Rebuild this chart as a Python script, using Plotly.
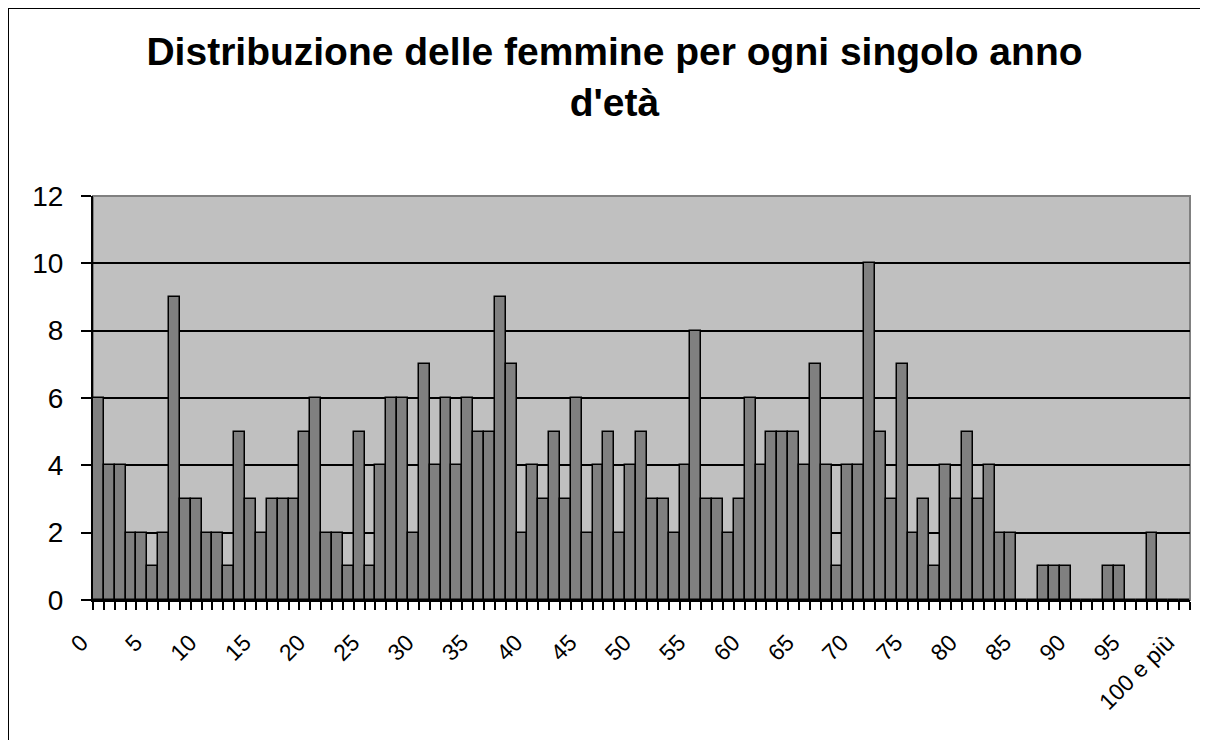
import plotly.graph_objects as go

ages = list(range(101))
age_labels = [str(a) for a in range(100)] + ["100 e più"]
females = [6, 4, 4, 2, 2, 1, 2, 9, 3, 3,
           2, 2, 1, 5, 3, 2, 3, 3, 3, 5,
           6, 2, 2, 1, 5, 1, 4, 6, 6, 2,
           7, 4, 6, 4, 6, 5, 5, 9, 7, 2,
           4, 3, 5, 3, 6, 2, 4, 5, 2, 4,
           5, 3, 3, 2, 4, 8, 3, 3, 2, 3,
           6, 4, 5, 5, 5, 4, 7, 4, 1, 4,
           4, 10, 5, 3, 7, 2, 3, 1, 4, 3,
           5, 3, 4, 2, 2, 0, 0, 1, 1, 1,
           0, 0, 0, 1, 1, 0, 0, 2, 0, 0,
           0]
label_step = 5
y_ticks = [0, 2, 4, 6, 8, 10, 12]
title_text = "Distribuzione delle femmine per ogni singolo anno<br>d'età"

FONT = "Arial, Liberation Sans, sans-serif"

fig = go.Figure(go.Bar(
    x=ages, y=females,
    marker=dict(color="#808080", line=dict(color="black", width=1.5)),
    hoverinfo="x+y",
))

# page is offset by the 8px body margin
W, H = 1200, 732
L, R, T, B = 85, 18, 188, 140
pw, ph = W - L - R, H - T - B

def px_x(p):
    return (p - L) / pw

def px_y(p):
    return (H - B - p) / ph

fig.update_layout(
    width=W, height=H,
    margin=dict(l=L, r=R, t=T, b=B, pad=0),
    paper_bgcolor="white",
    plot_bgcolor="#C0C0C0",
    bargap=0,
    showlegend=False,
    font=dict(family=FONT, color="black"),
    title=dict(text="<b>" + title_text + "</b>", x=606.5 / W, xref="container", xanchor="center",
               y=1 - 57 / H, yref="container", yanchor="top",
               font=dict(size=39, family=FONT, color="black")),
    xaxis=dict(
        range=[-0.5, len(ages) - 0.5],
        tickmode="array",
        tickvals=ages[::label_step],
        ticktext=age_labels[::label_step],
        tickangle=-45,
        ticks="",
        tickfont=dict(size=23, family=FONT),
        ticklabelshift=-17,
        ticklabelstandoff=18,
        showgrid=False, zeroline=False,
        showline=True, linecolor="black", linewidth=2,
        minor=dict(tickmode="array", tickvals=[a - 0.5 for a in ages] + [ages[-1] + 0.5],
                   ticks="outside", ticklen=8, tickwidth=2, tickcolor="black", showgrid=False),
        fixedrange=True,
    ),
    yaxis=dict(
        range=[0, 12],
        tickmode="array", tickvals=y_ticks,
        ticks="outside", ticklen=10, tickwidth=2, tickcolor="black",
        tickfont=dict(size=28, family=FONT),
        ticklabelstandoff=12,
        showgrid=True, gridcolor="black", gridwidth=1.5,
        zeroline=False,
        showline=True, linecolor="black", linewidth=2,
        fixedrange=True,
    ),
    shapes=[
        dict(type="rect", xref="paper", yref="paper", x0=0, x1=1, y0=0, y1=1,
             line=dict(color="#808080", width=2), layer="below"),
        dict(type="path", xref="paper", yref="paper",
             path="M {x0},{y0} L {x0},{y1} L {x1},{y1} L {x1},{y0}".format(
                 x0=px_x(0), x1=px_x(W - 1), y0=px_y(H + 20), y1=px_y(0)),
             line=dict(color="black", width=2), layer="above"),
    ],
)

fig.write_html("out.html")
